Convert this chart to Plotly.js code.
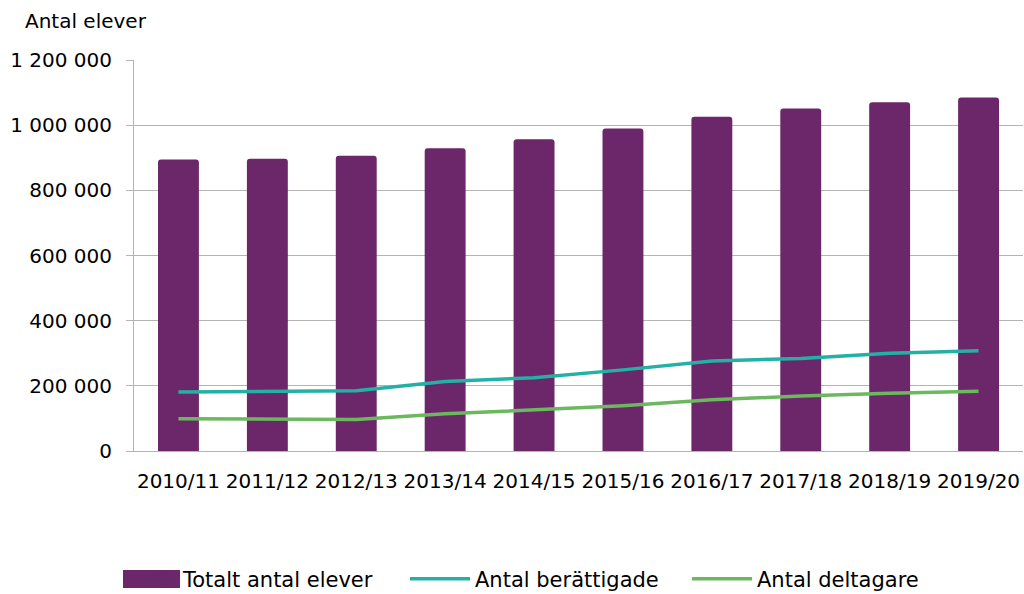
<!DOCTYPE html>
<html>
<head>
<meta charset="utf-8">
<script src="https://cdn.plot.ly/plotly-3.0.1.min.js"></script>
<style>html,body{margin:0;padding:0;background:#fff;}#chart{width:1024px;height:594px;}</style>
</head>
<body>
<div id="chart"></div>
<script>
const categories = ["2010/11","2011/12","2012/13","2013/14","2014/15","2015/16","2016/17","2017/18","2018/19","2019/20"];
const totaltAntalElever = [895000, 897000, 906000, 929000, 957000, 990000, 1026000, 1051000, 1070000, 1085000];
const antalBerattigade = [181000, 182000, 185000, 213000, 225000, 249000, 276000, 284000, 300000, 308000];
const antalDeltagare = [99000, 99000, 97000, 114000, 126000, 139000, 157000, 169000, 177000, 183000];
const yTickValues = [0, 200000, 400000, 600000, 800000, 1000000, 1200000];

const FONT = "DejaVu Sans, Arial, sans-serif";
const W = 1024, H = 594;
const LEG_Y = 579;
const legendFont = {family:FONT, size:21, color:"#000"};
function legendAt(px, itemw){
  return {xref:"container", yref:"container", x:px/W, xanchor:"left", y:1-LEG_Y/H, yanchor:"middle",
          orientation:"h", font:legendFont, itemwidth:itemw, bgcolor:"rgba(0,0,0,0)", borderwidth:0};
}
const traces = [
  {type:"bar", name:"Totalt antal elever", x:categories, y:totaltAntalElever, legend:"legend",
   marker:{color:"#6B2769", cornerradius:3, line:{width:0}}},
  {type:"scatter", mode:"lines", name:"Antal berättigade", x:categories, y:antalBerattigade, legend:"legend2",
   line:{color:"#24B1A5", width:3.5}},
  {type:"scatter", mode:"lines", name:"Antal deltagare", x:categories, y:antalDeltagare, legend:"legend3",
   line:{color:"#6BB85F", width:3.5}}
];
const layout = {
  width:W, height:H,
  margin:{l:134, r:1, t:60, b:143, pad:0, autoexpand:false},
  paper_bgcolor:"#fff", plot_bgcolor:"#fff",
  separators:", ",
  font:{family:FONT, size:20, color:"#000"},
  bargap:0.54,
  showlegend:true,
  legend:legendAt(143, 30),
  legend2:legendAt(405, 60),
  legend3:legendAt(687, 60),
  xaxis:{type:"category", automargin:false, showgrid:false, showline:true, linecolor:"#b4b4b4", linewidth:1,
         ticks:"", tickfont:{family:FONT, size:20, color:"#000"}, ticklabelstandoff:12, zeroline:false},
  yaxis:{range:[0,1200000], automargin:false, tickvals:yTickValues, tickformat:",d", showgrid:true, gridcolor:"#b4b4b4", gridwidth:1,
         showline:true, linecolor:"#b4b4b4", linewidth:1, ticks:"outside", ticklen:7, tickcolor:"#b4b4b4",
         tickfont:{family:FONT, size:20, color:"#000"}, ticklabelstandoff:10, zeroline:false},
  shapes:[{type:"rect", xref:"paper", yref:"paper", layer:"above",
           x0:(123-134)/889, x1:(180-134)/889, y0:-(LEG_Y-9-451)/391, y1:-(LEG_Y+9-451)/391,
           fillcolor:"#6B2769", line:{width:0}}],
  annotations:[{text:"Antal elever", xref:"paper", yref:"paper", x:-(134-23)/889, y:(451-21)/391, xanchor:"left", yanchor:"middle",
                showarrow:false, font:{family:FONT, size:20, color:"#000"}}]
};
Plotly.newPlot("chart", traces, layout, {displayModeBar:false, staticPlot:true});
</script>
</body>
</html>
